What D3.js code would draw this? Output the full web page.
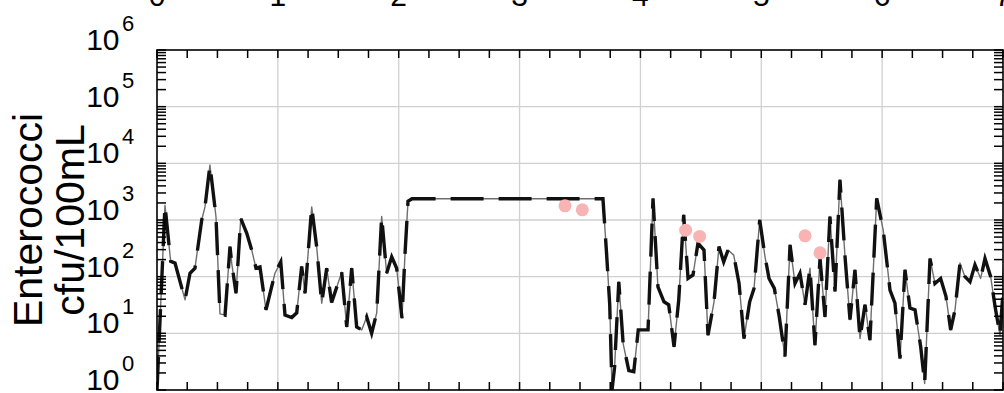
<!DOCTYPE html>
<html>
<head>
<meta charset="utf-8">
<script src="https://cdn.jsdelivr.net/npm/d3@7"></script>
<style>
  html, body { margin: 0; padding: 0; background: #fff; }
  svg { display: block; font-family: "Liberation Sans", Arial, sans-serif; }
</style>
</head>
<body>
<svg id="chart" width="1004" height="393"></svg>
<script>
// ---- data ----
const sampleX = [0.000,0.066,0.113,0.149,0.232,0.273,0.314,0.370,0.397,0.438,0.488,0.521,0.563,0.604,0.618,0.654,0.693,0.742,0.784,0.819,0.852,0.902,0.976,1.024,1.059,1.115,1.156,1.197,1.225,1.280,1.321,1.363,1.404,1.445,1.528,1.570,1.611,1.652,1.694,1.735,1.776,1.818,1.859,1.900,1.942,1.983,2.027,2.052,2.077,2.110,3.690,3.718,3.746,3.765,3.786,3.821,3.857,3.904,3.945,3.982,4.063,4.104,4.145,4.195,4.234,4.278,4.317,4.358,4.394,4.435,4.476,4.526,4.559,4.609,4.650,4.689,4.725,4.772,4.816,4.857,4.904,4.940,4.987,5.031,5.064,5.108,5.149,5.196,5.238,5.279,5.320,5.362,5.403,5.444,5.486,5.527,5.568,5.610,5.651,5.693,5.734,5.775,5.817,5.858,5.899,5.955,6.009,6.065,6.106,6.148,6.189,6.230,6.272,6.319,6.352,6.396,6.437,6.484,6.528,6.567,6.603,6.644,6.685,6.727,6.768,6.815,6.851,6.898,6.934,6.975,7.020];
const enterococci = [1,1820,186,174,39,115,141,1000,1700,9330,1150,22,21,339,174,51,1070,589,295,141,148,26,115,182,21,19,23,151,51,1700,339,34,141,35,120,13,141,13,11.5,19.5,10,23,1150,115,224,141,18.6,251,2140,2370,2370,295,32,1,2.5,81,6.6,2.2,2.1,11.5,11.5,2400,66,36,32,5.8,39,1230,93,107,389,295,9.3,36,339,182,295,240,76,8.1,36,62,1000,224,93,62,19.5,3.9,363,76,115,32,141,6.2,209,19.5,1150,55,5130,224,17.4,132,8.1,32,7.6,2400,661,58,34,3.6,132,28,26,5.8,1.3,209,76,93,45,11.5,26,174,100,81,162,93,209,100,30,9.3,224,1500];
// fix: keep x/y aligned (the two arrays above are read point by point)
const obsX = [3.376,3.519,4.374,4.490,5.362,5.486];
const obsY = [1780,1510,661,513,525,263];
const topTickLabels = ["0","1","2","3","4","5","6","7"];
const yDecades = [0,1,2,3,4,5,6];

// ---- layout ----
const L = 157, R = 1003, T = 50, B = 390;
const svg = d3.select("#chart");
const x = d3.scaleLinear().domain([0, 7]).range([L, R]);
const y = d3.scaleLog().domain([1, 1e6]).range([B, T]);

svg.append("defs").append("clipPath").attr("id", "clip")
  .append("rect").attr("x", L).attr("y", T).attr("width", R - L).attr("height", B - T);

// grid
const gx = d3.range(1, 7);
svg.append("g").selectAll("line").data(gx).join("line")
  .attr("x1", d => x(d)).attr("x2", d => x(d)).attr("y1", T).attr("y2", B)
  .attr("stroke", "#d0d0d0").attr("stroke-width", 1.3);
svg.append("g").selectAll("line").data([1,2,3,4,5]).join("line")
  .attr("x1", L).attr("x2", R).attr("y1", d => y(Math.pow(10, d))).attr("y2", d => y(Math.pow(10, d)))
  .attr("stroke", "#d0d0d0").attr("stroke-width", 1.3);

// data lines
const pts = sampleX.map((d, i) => [d, enterococci[i]]).filter(p => p[1] !== undefined);
const line = d3.line().x(d => x(d[0])).y(d => y(Math.max(d[1], 0.5)));
const g = svg.append("g").attr("clip-path", "url(#clip)");
g.append("path").datum(pts).attr("d", line)
  .attr("fill", "none").attr("stroke", "#6e6e6e").attr("stroke-width", 1.4).attr("stroke-linejoin", "round");
g.append("path").datum(pts).attr("d", line)
  .attr("fill", "none").attr("stroke", "#111").attr("stroke-width", 3.4)
  .attr("stroke-dasharray", "33,15").attr("stroke-linejoin", "miter");

// observation dots
svg.append("g").selectAll("circle").data(obsX.map((d, i) => [d, obsY[i]])).join("circle")
  .attr("cx", d => x(d[0])).attr("cy", d => y(d[1])).attr("r", 6.5)
  .attr("fill", "#f9b3b3");

// axes box
svg.append("rect").attr("x", L).attr("y", T).attr("width", R - L).attr("height", B - T)
  .attr("fill", "none").attr("stroke", "#000").attr("stroke-width", 1.6);

// x ticks (quarters) top & bottom, inward
const xt = d3.range(0, 29).map(i => i * 0.25);
const tk = svg.append("g").attr("stroke", "#000").attr("stroke-width", 1.5);
xt.forEach(v => {
  tk.append("line").attr("x1", x(v)).attr("x2", x(v)).attr("y1", T).attr("y2", T + 8);
  tk.append("line").attr("x1", x(v)).attr("x2", x(v)).attr("y1", B).attr("y2", B - 8);
});
// y log ticks left & right, inward
const yt = [];
for (let e = 0; e < 6; e++) for (let m = 1; m < 10; m++) yt.push(m * Math.pow(10, e));
yt.push(1e6);
yt.forEach(v => {
  tk.append("line").attr("x1", L).attr("x2", L + 9).attr("y1", y(v)).attr("y2", y(v));
  tk.append("line").attr("x1", R).attr("x2", R - 9).attr("y1", y(v)).attr("y2", y(v));
});

// y tick labels 10^n
const yl = svg.append("g").attr("fill", "#000");
yDecades.forEach(e => {
  const yy = y(Math.pow(10, e));
  yl.append("text").attr("x", 119.5).attr("y", yy).attr("text-anchor", "end")
    .attr("font-size", 30).text("10");
  yl.append("text").attr("x", 122).attr("y", yy - 19).attr("text-anchor", "start")
    .attr("font-size", 22).text(String(e));
});

// top tick labels (cut off by window top)
svg.append("g").selectAll("text").data(topTickLabels).join("text")
  .attr("x", (d, i) => x(i)).attr("y", 6).attr("text-anchor", "middle")
  .attr("font-size", 30).text(d => d);

// y title
const yt1 = svg.append("text").attr("transform", "translate(42,220) rotate(-90)")
  .attr("text-anchor", "middle").attr("font-size", 41).text("Enterococci");
const yt2 = svg.append("text").attr("transform", "translate(84,220) rotate(-90)")
  .attr("text-anchor", "middle").attr("font-size", 41).text("cfu/100mL");
</script>
</body>
</html>
